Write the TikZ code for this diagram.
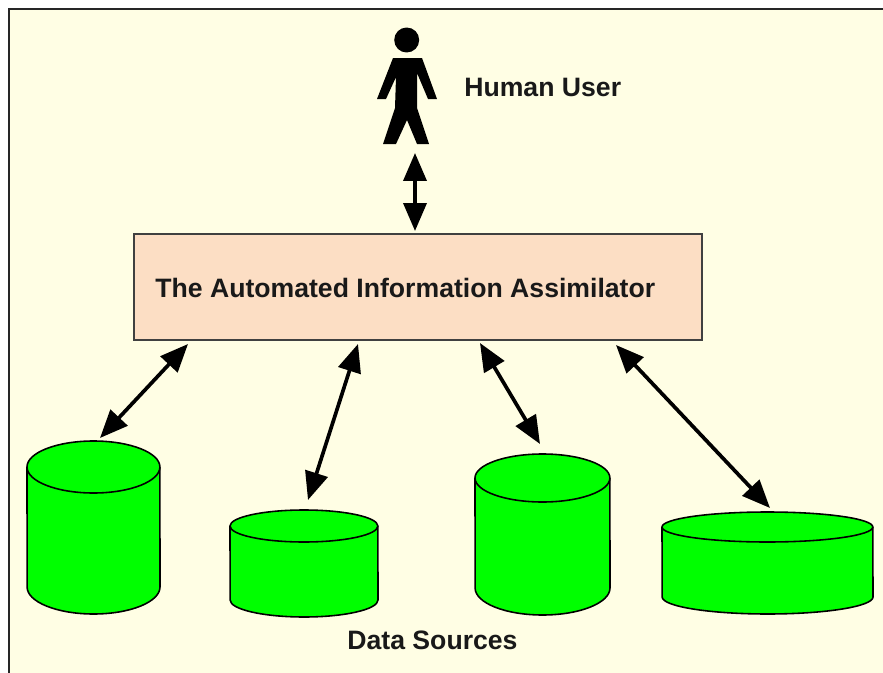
\documentclass[tikz,border=0pt]{standalone}
\usepackage{fontspec}
\setmainfont{Liberation Sans}
\usetikzlibrary{arrows.meta}
\definecolor{paper}{HTML}{FFFEE4}
\definecolor{peach}{HTML}{FCDEC4}
\definecolor{storegreen}{HTML}{00FF00}

\begin{document}
\begin{tikzpicture}
	[x=0.02cm, y=-0.02cm,%
	title/.style ={font=\bfseries\fontsize{15.15}{18}\selectfont,	text=black!90,	inner sep=0pt},%
	assim/.style ={rectangle,	draw=black!75,	fill=peach,	line width=0.8pt,	inner sep=0pt,	minimum width=11.36cm,	minimum height=2.12cm},%
	store/.style ={rectangle,	inner sep=0pt,	outer sep=0pt},%
	face/.style  ={draw=black,	fill=storegreen,	line width=0.9pt,	line join=round},%
	link/.style  ={{Triangle[length=0.56cm,width=0.46cm]}-{Triangle[length=0.56cm,width=0.46cm]},	line width=2.1pt},%
	]

	\useasboundingbox (0,0) rectangle (883,673);

	% paper and frame
	\fill [paper] (9,9) rectangle (883,673);
	\draw [line width=1.5pt, black!85] (9,673) -- (9,9) -- (883,9);

	% nodes
	\node (assimilator) at (418,287) [assim] {};
	\node (assimtext) at (155,288) [title, anchor=west] {The Automated Information Assimilator};
	\node (usertext) at (464,87.5) [title, anchor=west] {Human User};
	\node (sourcetext) at (432.5,640) [title] {Data Sources};

	% data stores: top radius \rt, bottom radius \rb
	\foreach \n/\cx/\cy/\sw/\sh/\rt/\rb in {	1/93.5/527.5/133/173/26/27, 2/304/563.5/148/107/16/17, %
												3/542.5/534.5/135/161/24/27, 4/767.5/563/211/102/15/17 %
												}
	{
		\node (store\n) at (\cx,\cy) [store, minimum width=\sw*0.02cm, minimum height=\sh*0.02cm] {};
		\draw [face] ([yshift=-\rt*0.02cm]store\n.north west)
			arc [start angle=180, end angle=0, x radius=\sw*0.01cm, y radius=\rt*0.02cm]
			-- ([yshift=\rb*0.02cm]store\n.south east)
			arc [start angle=0, end angle=-180, x radius=\sw*0.01cm, y radius=\rb*0.02cm]
			-- cycle;
		\draw [face, fill=none] ([yshift=-\rt*0.02cm]store\n.north west)
			arc [start angle=180, end angle=360, x radius=\sw*0.01cm, y radius=\rt*0.02cm];
	}

	% human user
	\node (head) at (406.7,40) [circle, fill=black, inner sep=0pt, minimum size=0.5cm] {};
	\fill (393,58) -- (422,58) -- (437,99) -- (428,99) -- (417,73) -- (417,108) -- (429,144) -- (417,144) -- (407,120)
		-- (396,144) -- (383,144) -- (395,108) -- (396,77) -- (386,99) -- (377,99) -- cycle;

	% interconnections
	\foreach \n/\cx/\cy in {	user/415/153, box0/415/231, %
												box1/188/344, box2/358/344, box3/480/343, box4/616/345, %
												top1/100/438, top2/308/500, top3/540/444, top4/770/508 %
												}
			\coordinate (\n) at (\cx,\cy);

	\draw [link] (user) -- (box0);
	\foreach \i in {1,2,3,4}
		\draw [link] (box\i) -- (top\i);

\end{tikzpicture}
\end{document}
